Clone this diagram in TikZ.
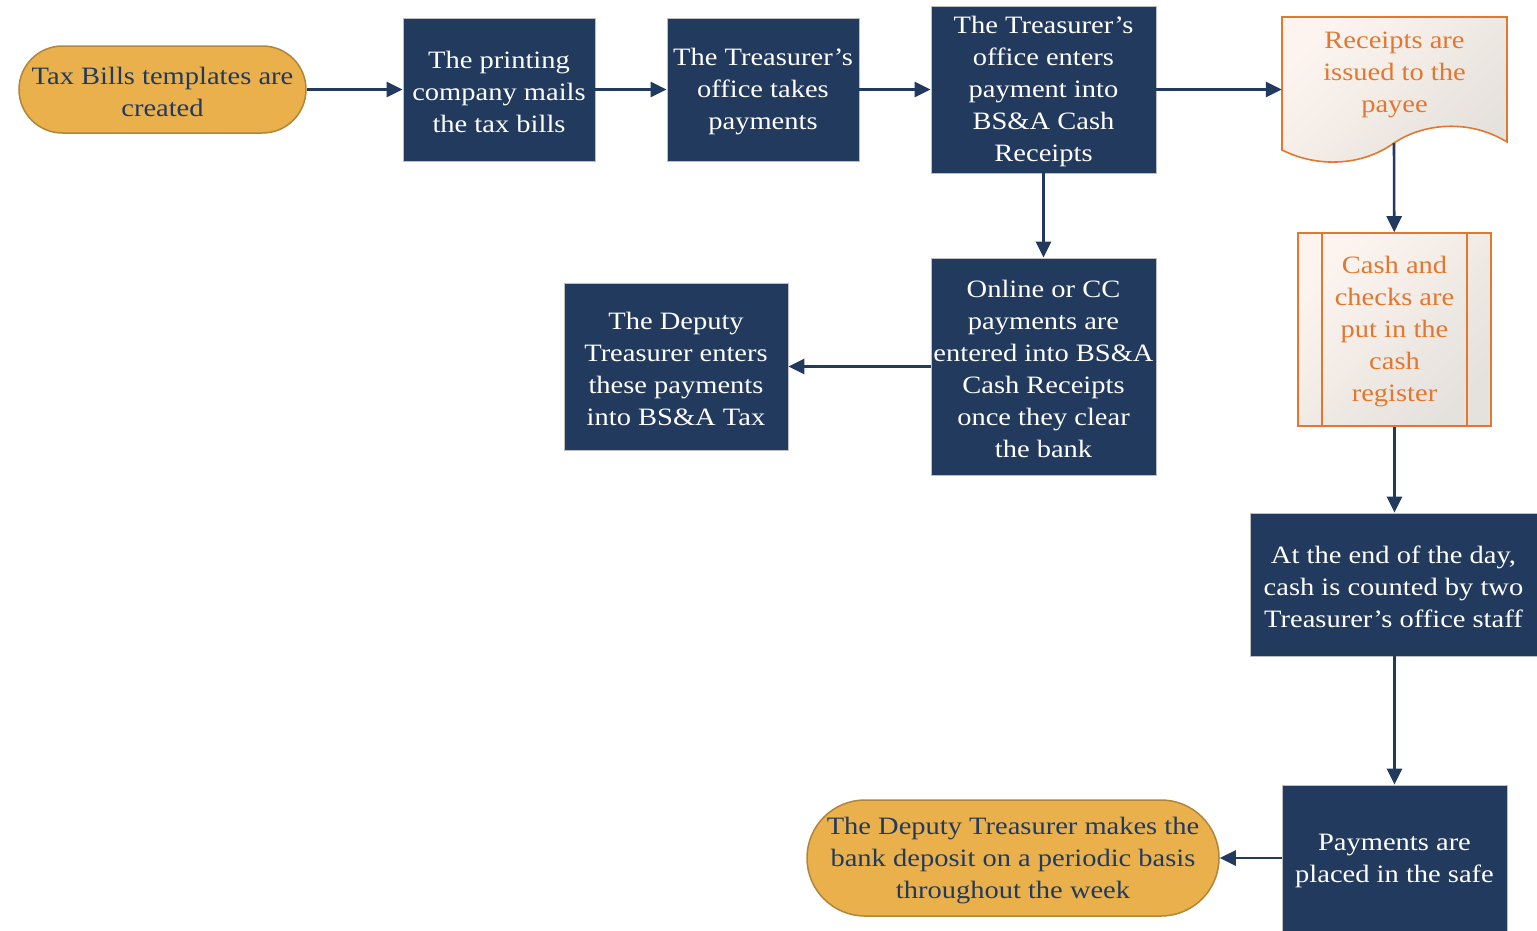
\documentclass[tikz,border=0pt]{standalone}
\usepackage{fontspec}
\setmainfont{Liberation Serif}[FakeStretch=1.14]
\usetikzlibrary{arrows.meta}
\definecolor{navy}{RGB}{34,58,94}
\definecolor{gold}{RGB}{233,176,76}
\definecolor{goldline}{RGB}{176,134,58}
\definecolor{rust}{RGB}{226,120,48}
\definecolor{paperA}{RGB}{253,244,239}
\definecolor{paperB}{RGB}{229,225,220}
% taller first line, so the text block sits a little lower in its box
\newcommand\padtop{\rule{0pt}{22pt}}
\tikzset{
  x=1pt, y=-1pt,
  every node/.style={font=\fontsize{25}{32}\selectfont, align=center, inner sep=0pt},
  navybox/.style={rectangle, fill=navy, draw=black!25, line width=0.8pt, text=white},
  terminal/.style={rectangle, fill=gold, draw=goldline, line width=1.5pt, text=navy},
  paper/.style={draw=rust, line width=1.6pt, shading=axis, top color=paperA, bottom color=paperB, shading angle=45},
  flow/.style={draw=navy, line width=2.6pt, -{Triangle[length=16pt,width=15pt]}},
}
\begin{document}
\begin{tikzpicture}
\useasboundingbox (0,0) rectangle (1537,930);

% top row
\node[terminal, rounded corners=43.5pt, minimum width=287pt, minimum height=87pt] (A) at (162.5,89.5) {\padtop Tax Bills templates are\\created};
\node[navybox, minimum width=192pt, minimum height=143pt] (B) at (499,89.5) {\padtop The printing\\company mails\\the tax bills};
\node[navybox, minimum width=192pt, minimum height=143pt] (C) at (763,89.5) {\padtop The Treasurer’s\\office takes\\payments};
\node[navybox, minimum width=225pt, minimum height=167pt] (D) at (1043.5,89.5) {\padtop The Treasurer’s\\office enters\\payment into\\BS\&A Cash\\Receipts};

% document shape
\path[paper] (1282,17) -- (1507,17) -- (1507,142)
  .. controls (1468,118) and (1422,124) .. (1394,143)
  .. controls (1362,166) and (1318,168) .. (1282,150) -- cycle;
\node[minimum width=225pt, minimum height=145pt] (E) at (1394.5,89.5) {};
\node[text=rust] (Etext) at (1394.5,72) {\padtop Receipts are\\issued to the\\payee};
\coordinate (Ebot) at (1394,143);

% predefined process
\node[paper, rectangle, minimum width=193pt, minimum height=193pt] (F) at (1394.5,329.5) {};
\draw[rust, line width=1.6pt] (1322,233) -- (1322,426) (1467,233) -- (1467,426);
\node[text=rust] (Ftext) at (1394.5,329.5) {\padtop Cash and\\checks are\\put in the\\cash\\register};

% middle and bottom
\node[navybox, minimum width=225pt, minimum height=217pt] (J) at (1043.5,366.5) {\padtop Online or CC\\payments are\\entered into BS\&A\\Cash Receipts\\once they clear\\the bank};
\node[navybox, minimum width=224pt, minimum height=167pt] (K) at (676,366.5) {\padtop The Deputy\\Treasurer enters\\these payments\\into BS\&A Tax};
\node[navybox, minimum width=287pt, minimum height=143pt] (G) at (1393.5,584.5) {\padtop At the end of the day,\\cash is counted by two\\Treasurer’s office staff};
\node[navybox, minimum width=225pt, minimum height=146pt] (H) at (1394.5,858) {\padtop Payments are\\placed in the safe};
\node[terminal, rounded corners=58pt, minimum width=412pt, minimum height=116pt] (I) at (1013,858) {\padtop The Deputy Treasurer makes the\\bank deposit on a periodic basis\\throughout the week};

% connectors
\draw[flow] (A) -- (B);
\draw[flow] (B) -- (C);
\draw[flow] (C) -- (D);
\draw[flow] (D) -- (E);
\draw[flow] (D) -- (J);
\draw[flow] (J) -- (K);
\draw[flow] (Ebot) -- (F);
\draw[flow] (F) -- (G.north -| F);
\draw[flow] (G.south -| H) -- (H);
\draw[flow] (H) -- (I);
\end{tikzpicture}
\end{document}
